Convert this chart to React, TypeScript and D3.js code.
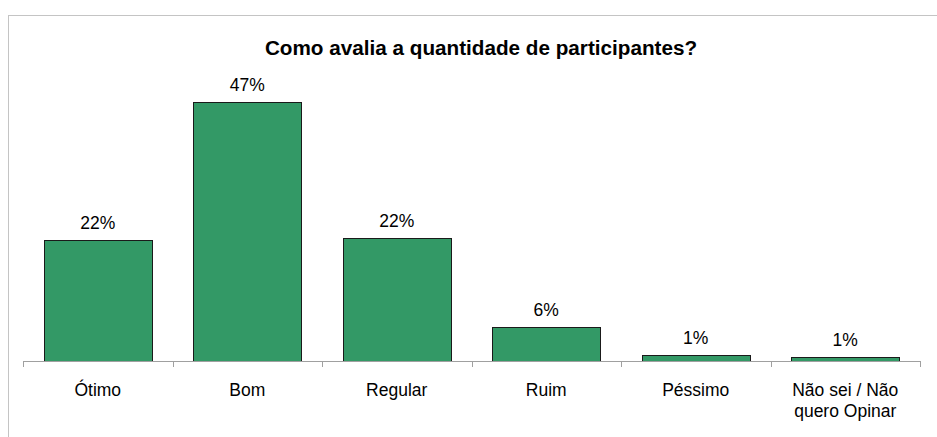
import React from "react";
import * as d3 from "d3";

const categories = ["Ótimo", "Bom", "Regular", "Ruim", "Péssimo", "Não sei / Não|quero Opinar"];
const values = [22.0, 47.0, 22.3, 6.2, 1.1, 0.8];
const valueLabels = ["22%", "47%", "22%", "6%", "1%", "1%"];
const title = "Como avalia a quantidade de participantes?";

const W = 937;
const H = 437;
const FONT = "'Liberation Sans', Arial, Helvetica, sans-serif";

export default function App() {
  const x = d3.scaleBand<number>().domain(d3.range(categories.length)).range([23, 920]).paddingInner(0.28).paddingOuter(0.14);
  const y = d3.scaleLinear().domain([0, 50]).range([361, 85.5]);
  const step = x.step();
  const ticks = d3.range(categories.length + 1).map((i) => 23 + i * step);

  return (
    <svg width={W} height={H} style={{ position: "absolute", left: 0, top: 0, display: "block" }} fontFamily={FONT}>
      <rect x={0} y={0} width={W} height={H} fill="#ffffff" />
      <rect x={8.5} y={15.5} width={W + 20} height={H + 20} fill="none" stroke="#c4c4c4" strokeWidth={1} />
      <text x={481} y={55} textAnchor="middle" fontSize={20.7} fontWeight="bold" fill="#000">
        {title}
      </text>
      {values.map((v, i) => {
        const x0 = Math.round(x(i)!) + 0.5;
        const w = Math.round(x.bandwidth());
        const top = y(v);
        return (
          <g key={i}>
            <rect x={x0} y={Math.round(top) + 0.5} width={w} height={Math.max(0, Math.round(y(0) - top))} fill="#339966" stroke="#1a1a1a" strokeWidth={1} />
            <text x={x(i)! + x.bandwidth() / 2} y={top - 11} textAnchor="middle" fontSize={17.5} fill="#000">
              {valueLabels[i]}
            </text>
          </g>
        );
      })}
      <line x1={23} x2={920} y1={361.5} y2={361.5} stroke="#a0a0a0" strokeWidth={1} />
      {ticks.map((t, i) => (
        <line key={i} x1={Math.round(t) + 0.5} x2={Math.round(t) + 0.5} y1={361} y2={367} stroke="#a0a0a0" strokeWidth={1} />
      ))}
      {categories.map((c, i) => {
        const lines = c.split("|");
        const cx = x(i)! + x.bandwidth() / 2;
        return (
          <text key={i} x={cx} y={396} textAnchor="middle" fontSize={17.5} fill="#000">
            {lines.map((l, j) => (
              <tspan key={j} x={cx} dy={j === 0 ? 0 : 21}>
                {l}
              </tspan>
            ))}
          </text>
        );
      })}
    </svg>
  );
}
